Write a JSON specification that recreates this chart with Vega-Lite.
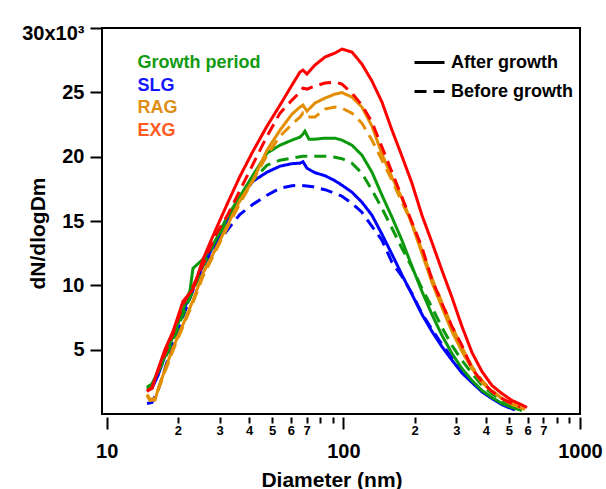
{
"$schema": "https://vega.github.io/schema/vega-lite/v6.json",
"width": 478, "height": 386,
"autosize": {"type": "none"},
"padding": {"left": 102, "top": 28, "right": 26, "bottom": 75},
"background": "white",
"config": {"font": "Liberation Sans", "view": {"stroke": "#000", "strokeWidth": 2}},
"data": {"values": [
{"g":"SLG","s":"After growth","d":14.8,"n":1829},{"g":"SLG","s":"After growth","d":15.54,"n":2023},{"g":"SLG","s":"After growth","d":16.47,"n":2996},{"g":"SLG","s":"After growth","d":17.63,"n":4552},{"g":"SLG","s":"After growth","d":19.06,"n":6187},{"g":"SLG","s":"After growth","d":21.01,"n":7977},{"g":"SLG","s":"After growth","d":23.15,"n":9767},{"g":"SLG","s":"After growth","d":25.52,"n":11556},{"g":"SLG","s":"After growth","d":28.68,"n":13268},{"g":"SLG","s":"After growth","d":32.54,"n":14980},{"g":"SLG","s":"After growth","d":36.58,"n":16848},{"g":"SLG","s":"After growth","d":41.51,"n":18093},{"g":"SLG","s":"After growth","d":47.56,"n":18793},{"g":"SLG","s":"After growth","d":53.98,"n":19260},{"g":"SLG","s":"After growth","d":60.66,"n":19455},{"g":"SLG","s":"After growth","d":65.55,"n":19494},{"g":"SLG","s":"After growth","d":67.5,"n":19611},{"g":"SLG","s":"After growth","d":70.18,"n":19105},{"g":"SLG","s":"After growth","d":75.86,"n":18755},{"g":"SLG","s":"After growth","d":83.59,"n":18521},{"g":"SLG","s":"After growth","d":92.15,"n":18132},{"g":"SLG","s":"After growth","d":98.65,"n":17782},{"g":"SLG","s":"After growth","d":108.7,"n":17237},{"g":"SLG","s":"After growth","d":119.8,"n":16459},{"g":"SLG","s":"After growth","d":132.1,"n":15447},{"g":"SLG","s":"After growth","d":145.6,"n":13969},{"g":"SLG","s":"After growth","d":160.5,"n":12412},{"g":"SLG","s":"After growth","d":176.8,"n":10817},{"g":"SLG","s":"After growth","d":194.9,"n":9299},{"g":"SLG","s":"After growth","d":214.8,"n":7743},{"g":"SLG","s":"After growth","d":236.7,"n":6420},{"g":"SLG","s":"After growth","d":261,"n":5230},{"g":"SLG","s":"After growth","d":287.6,"n":4187},{"g":"SLG","s":"After growth","d":317,"n":3191},{"g":"SLG","s":"After growth","d":349.4,"n":2451},{"g":"SLG","s":"After growth","d":385.1,"n":1728},{"g":"SLG","s":"After growth","d":424.4,"n":1206},{"g":"SLG","s":"After growth","d":467.8,"n":739},{"g":"SLG","s":"After growth","d":505.6,"n":482},{"g":"SLG","s":"After growth","d":531,"n":311},
{"g":"SLG","s":"Before growth","d":14.8,"n":817},{"g":"SLG","s":"Before growth","d":15.54,"n":895},{"g":"SLG","s":"Before growth","d":16.47,"n":1829},{"g":"SLG","s":"Before growth","d":17.63,"n":3541},{"g":"SLG","s":"Before growth","d":19.06,"n":5564},{"g":"SLG","s":"Before growth","d":21.01,"n":7587},{"g":"SLG","s":"Before growth","d":23.15,"n":9611},{"g":"SLG","s":"Before growth","d":25.52,"n":11478},{"g":"SLG","s":"Before growth","d":28.68,"n":13035},{"g":"SLG","s":"Before growth","d":32.54,"n":14358},{"g":"SLG","s":"Before growth","d":36.58,"n":15525},{"g":"SLG","s":"Before growth","d":41.51,"n":16303},{"g":"SLG","s":"Before growth","d":47.56,"n":17004},{"g":"SLG","s":"Before growth","d":53.98,"n":17548},{"g":"SLG","s":"Before growth","d":60.66,"n":17743},{"g":"SLG","s":"Before growth","d":65.55,"n":17782},{"g":"SLG","s":"Before growth","d":74.4,"n":17665},{"g":"SLG","s":"Before growth","d":83.59,"n":17432},{"g":"SLG","s":"Before growth","d":92.15,"n":17160},{"g":"SLG","s":"Before growth","d":98.65,"n":16925},{"g":"SLG","s":"Before growth","d":108.7,"n":16381},{"g":"SLG","s":"Before growth","d":119.8,"n":15680},{"g":"SLG","s":"Before growth","d":132.1,"n":14591},{"g":"SLG","s":"Before growth","d":145.6,"n":13502},{"g":"SLG","s":"Before growth","d":160.5,"n":11790},{"g":"SLG","s":"Before growth","d":176.8,"n":10700},{"g":"SLG","s":"Before growth","d":194.9,"n":9377},{"g":"SLG","s":"Before growth","d":214.8,"n":7821},{"g":"SLG","s":"Before growth","d":236.7,"n":6576},{"g":"SLG","s":"Before growth","d":261,"n":5408},{"g":"SLG","s":"Before growth","d":287.6,"n":4397},{"g":"SLG","s":"Before growth","d":317,"n":3463},{"g":"SLG","s":"Before growth","d":349.4,"n":2529},{"g":"SLG","s":"Before growth","d":385.1,"n":1751},{"g":"SLG","s":"Before growth","d":424.4,"n":1245},{"g":"SLG","s":"Before growth","d":467.8,"n":739},{"g":"SLG","s":"Before growth","d":515.6,"n":389},
{"g":"Growth period","s":"After growth","d":14.8,"n":2086},{"g":"Growth period","s":"After growth","d":15.54,"n":2335},{"g":"Growth period","s":"After growth","d":16.47,"n":3307},{"g":"Growth period","s":"After growth","d":17.63,"n":4475},{"g":"Growth period","s":"After growth","d":19.06,"n":6031},{"g":"Growth period","s":"After growth","d":21.01,"n":8054},{"g":"Growth period","s":"After growth","d":22.48,"n":9600},{"g":"Growth period","s":"After growth","d":23.15,"n":11323},{"g":"Growth period","s":"After growth","d":25.52,"n":12023},{"g":"Growth period","s":"After growth","d":28.68,"n":13424},{"g":"Growth period","s":"After growth","d":32.54,"n":15447},{"g":"Growth period","s":"After growth","d":36.58,"n":16925},{"g":"Growth period","s":"After growth","d":41.51,"n":18561},{"g":"Growth period","s":"After growth","d":47.56,"n":20273},{"g":"Growth period","s":"After growth","d":53.98,"n":20895},{"g":"Growth period","s":"After growth","d":60.66,"n":21284},{"g":"Growth period","s":"After growth","d":65.55,"n":21518},{"g":"Growth period","s":"After growth","d":67.5,"n":21750},{"g":"Growth period","s":"After growth","d":68.8,"n":21984},{"g":"Growth period","s":"After growth","d":71.56,"n":21362},{"g":"Growth period","s":"After growth","d":75.86,"n":21362},{"g":"Growth period","s":"After growth","d":83.59,"n":21439},{"g":"Growth period","s":"After growth","d":92.15,"n":21439},{"g":"Growth period","s":"After growth","d":98.65,"n":21284},{"g":"Growth period","s":"After growth","d":108.7,"n":20895},{"g":"Growth period","s":"After growth","d":119.8,"n":20117},{"g":"Growth period","s":"After growth","d":132.1,"n":18793},{"g":"Growth period","s":"After growth","d":145.6,"n":17004},{"g":"Growth period","s":"After growth","d":160.5,"n":15292},{"g":"Growth period","s":"After growth","d":176.8,"n":13502},{"g":"Growth period","s":"After growth","d":194.9,"n":11478},{"g":"Growth period","s":"After growth","d":214.8,"n":9533},{"g":"Growth period","s":"After growth","d":236.7,"n":7743},{"g":"Growth period","s":"After growth","d":261,"n":6109},{"g":"Growth period","s":"After growth","d":287.6,"n":4708},{"g":"Growth period","s":"After growth","d":317,"n":3541},{"g":"Growth period","s":"After growth","d":349.4,"n":2607},{"g":"Growth period","s":"After growth","d":385.1,"n":1829},{"g":"Growth period","s":"After growth","d":424.4,"n":1284},{"g":"Growth period","s":"After growth","d":467.8,"n":817},{"g":"Growth period","s":"After growth","d":515.6,"n":506},{"g":"Growth period","s":"After growth","d":568.4,"n":272},
{"g":"Growth period","s":"Before growth","d":14.8,"n":1984},{"g":"Growth period","s":"Before growth","d":15.54,"n":2296},{"g":"Growth period","s":"Before growth","d":16.47,"n":3230},{"g":"Growth period","s":"Before growth","d":17.63,"n":4319},{"g":"Growth period","s":"Before growth","d":19.06,"n":5720},{"g":"Growth period","s":"Before growth","d":21.01,"n":7743},{"g":"Growth period","s":"Before growth","d":23.15,"n":9611},{"g":"Growth period","s":"Before growth","d":25.52,"n":11478},{"g":"Growth period","s":"Before growth","d":28.68,"n":13424},{"g":"Growth period","s":"Before growth","d":32.54,"n":15058},{"g":"Growth period","s":"Before growth","d":36.58,"n":16614},{"g":"Growth period","s":"Before growth","d":41.51,"n":18171},{"g":"Growth period","s":"Before growth","d":47.56,"n":19339},{"g":"Growth period","s":"Before growth","d":53.98,"n":19727},{"g":"Growth period","s":"Before growth","d":60.66,"n":19883},{"g":"Growth period","s":"Before growth","d":67.5,"n":20039},{"g":"Growth period","s":"Before growth","d":75.86,"n":20039},{"g":"Growth period","s":"Before growth","d":83.59,"n":20039},{"g":"Growth period","s":"Before growth","d":92.15,"n":19961},{"g":"Growth period","s":"Before growth","d":98.65,"n":19844},{"g":"Growth period","s":"Before growth","d":108.7,"n":19494},{"g":"Growth period","s":"Before growth","d":119.8,"n":18716},{"g":"Growth period","s":"Before growth","d":132.1,"n":17393},{"g":"Growth period","s":"Before growth","d":145.6,"n":15992},{"g":"Growth period","s":"Before growth","d":160.5,"n":14436},{"g":"Growth period","s":"Before growth","d":176.8,"n":12879},{"g":"Growth period","s":"Before growth","d":194.9,"n":11400},{"g":"Growth period","s":"Before growth","d":214.8,"n":9767},{"g":"Growth period","s":"Before growth","d":236.7,"n":8288},{"g":"Growth period","s":"Before growth","d":261,"n":6731},{"g":"Growth period","s":"Before growth","d":287.6,"n":5331},{"g":"Growth period","s":"Before growth","d":317,"n":4163},{"g":"Growth period","s":"Before growth","d":349.4,"n":3152},{"g":"Growth period","s":"Before growth","d":385.1,"n":2218},{"g":"Growth period","s":"Before growth","d":424.4,"n":1595},{"g":"Growth period","s":"Before growth","d":467.8,"n":1051},{"g":"Growth period","s":"Before growth","d":515.6,"n":584},{"g":"Growth period","s":"Before growth","d":546.6,"n":389},
{"g":"RAG","s":"After growth","d":14.8,"n":1440},{"g":"RAG","s":"After growth","d":15.24,"n":1051},{"g":"RAG","s":"After growth","d":16,"n":1089},{"g":"RAG","s":"After growth","d":16.47,"n":1907},{"g":"RAG","s":"After growth","d":17.63,"n":3463},{"g":"RAG","s":"After growth","d":19.06,"n":5136},{"g":"RAG","s":"After growth","d":21.01,"n":6965},{"g":"RAG","s":"After growth","d":23.15,"n":8833},{"g":"RAG","s":"After growth","d":25.52,"n":10934},{"g":"RAG","s":"After growth","d":28.68,"n":12724},{"g":"RAG","s":"After growth","d":32.54,"n":14747},{"g":"RAG","s":"After growth","d":36.58,"n":16614},{"g":"RAG","s":"After growth","d":41.51,"n":18171},{"g":"RAG","s":"After growth","d":47.56,"n":20505},{"g":"RAG","s":"After growth","d":53.98,"n":22062},{"g":"RAG","s":"After growth","d":60.66,"n":23307},{"g":"RAG","s":"After growth","d":65.55,"n":23852},{"g":"RAG","s":"After growth","d":67.5,"n":24008},{"g":"RAG","s":"After growth","d":70.18,"n":23541},{"g":"RAG","s":"After growth","d":75.86,"n":24164},{"g":"RAG","s":"After growth","d":83.59,"n":24552},{"g":"RAG","s":"After growth","d":92.15,"n":24863},{"g":"RAG","s":"After growth","d":98.65,"n":24980},{"g":"RAG","s":"After growth","d":108.7,"n":24630},{"g":"RAG","s":"After growth","d":119.8,"n":23852},{"g":"RAG","s":"After growth","d":132.1,"n":22373},{"g":"RAG","s":"After growth","d":145.6,"n":20194},{"g":"RAG","s":"After growth","d":160.5,"n":18404},{"g":"RAG","s":"After growth","d":176.8,"n":16770},{"g":"RAG","s":"After growth","d":194.9,"n":14747},{"g":"RAG","s":"After growth","d":214.8,"n":12490},{"g":"RAG","s":"After growth","d":236.7,"n":10233},{"g":"RAG","s":"After growth","d":261,"n":8288},{"g":"RAG","s":"After growth","d":287.6,"n":6420},{"g":"RAG","s":"After growth","d":317,"n":4864},{"g":"RAG","s":"After growth","d":349.4,"n":3541},{"g":"RAG","s":"After growth","d":385.1,"n":2451},{"g":"RAG","s":"After growth","d":424.4,"n":1751},{"g":"RAG","s":"After growth","d":467.8,"n":1206},{"g":"RAG","s":"After growth","d":515.6,"n":739},{"g":"RAG","s":"After growth","d":557.4,"n":506},{"g":"RAG","s":"After growth","d":585.2,"n":350},
{"g":"RAG","s":"Before growth","d":14.8,"n":1517},{"g":"RAG","s":"Before growth","d":15.24,"n":1128},{"g":"RAG","s":"Before growth","d":16,"n":1206},{"g":"RAG","s":"Before growth","d":16.47,"n":1829},{"g":"RAG","s":"Before growth","d":17.63,"n":3307},{"g":"RAG","s":"Before growth","d":19.06,"n":4942},{"g":"RAG","s":"Before growth","d":21.01,"n":6809},{"g":"RAG","s":"Before growth","d":23.15,"n":8677},{"g":"RAG","s":"Before growth","d":25.52,"n":10700},{"g":"RAG","s":"Before growth","d":28.68,"n":12568},{"g":"RAG","s":"Before growth","d":32.54,"n":14591},{"g":"RAG","s":"Before growth","d":36.58,"n":16381},{"g":"RAG","s":"Before growth","d":41.51,"n":18171},{"g":"RAG","s":"Before growth","d":47.56,"n":20117},{"g":"RAG","s":"Before growth","d":53.98,"n":21595},{"g":"RAG","s":"Before growth","d":60.66,"n":22528},{"g":"RAG","s":"Before growth","d":65.55,"n":23074},{"g":"RAG","s":"Before growth","d":67.5,"n":23385},{"g":"RAG","s":"Before growth","d":70.18,"n":23074},{"g":"RAG","s":"Before growth","d":75.86,"n":23074},{"g":"RAG","s":"Before growth","d":83.59,"n":23697},{"g":"RAG","s":"Before growth","d":92.15,"n":23852},{"g":"RAG","s":"Before growth","d":98.65,"n":23774},{"g":"RAG","s":"Before growth","d":108.7,"n":23385},{"g":"RAG","s":"Before growth","d":119.8,"n":22607},{"g":"RAG","s":"Before growth","d":132.1,"n":21284},{"g":"RAG","s":"Before growth","d":145.6,"n":19727},{"g":"RAG","s":"Before growth","d":160.5,"n":18171},{"g":"RAG","s":"Before growth","d":176.8,"n":16459},{"g":"RAG","s":"Before growth","d":194.9,"n":14825},{"g":"RAG","s":"Before growth","d":214.8,"n":12724},{"g":"RAG","s":"Before growth","d":236.7,"n":10545},{"g":"RAG","s":"Before growth","d":261,"n":8677},{"g":"RAG","s":"Before growth","d":287.6,"n":6809},{"g":"RAG","s":"Before growth","d":317,"n":5175},{"g":"RAG","s":"Before growth","d":349.4,"n":3696},{"g":"RAG","s":"Before growth","d":385.1,"n":2607},{"g":"RAG","s":"Before growth","d":424.4,"n":1829},{"g":"RAG","s":"Before growth","d":467.8,"n":1206},{"g":"RAG","s":"Before growth","d":515.6,"n":817},{"g":"RAG","s":"Before growth","d":557.4,"n":545},
{"g":"EXG","s":"After growth","d":14.8,"n":1829},{"g":"EXG","s":"After growth","d":15.54,"n":1984},{"g":"EXG","s":"After growth","d":16.47,"n":3463},{"g":"EXG","s":"After growth","d":17.63,"n":5019},{"g":"EXG","s":"After growth","d":19.06,"n":6420},{"g":"EXG","s":"After growth","d":21.01,"n":8755},{"g":"EXG","s":"After growth","d":23.15,"n":9689},{"g":"EXG","s":"After growth","d":25.52,"n":12023},{"g":"EXG","s":"After growth","d":28.68,"n":14202},{"g":"EXG","s":"After growth","d":32.54,"n":16459},{"g":"EXG","s":"After growth","d":36.58,"n":18482},{"g":"EXG","s":"After growth","d":41.51,"n":20428},{"g":"EXG","s":"After growth","d":47.56,"n":22373},{"g":"EXG","s":"After growth","d":53.98,"n":24008},{"g":"EXG","s":"After growth","d":60.66,"n":25564},{"g":"EXG","s":"After growth","d":65.55,"n":26575},{"g":"EXG","s":"After growth","d":67.5,"n":26731},{"g":"EXG","s":"After growth","d":70.18,"n":26420},{"g":"EXG","s":"After growth","d":75.86,"n":27121},{"g":"EXG","s":"After growth","d":83.59,"n":27743},{"g":"EXG","s":"After growth","d":92.15,"n":28054},{"g":"EXG","s":"After growth","d":98.65,"n":28366},{"g":"EXG","s":"After growth","d":108.7,"n":28131},{"g":"EXG","s":"After growth","d":119.8,"n":27198},{"g":"EXG","s":"After growth","d":132.1,"n":25875},{"g":"EXG","s":"After growth","d":145.6,"n":24241},{"g":"EXG","s":"After growth","d":160.5,"n":22062},{"g":"EXG","s":"After growth","d":176.8,"n":20039},{"g":"EXG","s":"After growth","d":194.9,"n":17938},{"g":"EXG","s":"After growth","d":214.8,"n":15447},{"g":"EXG","s":"After growth","d":236.7,"n":13346},{"g":"EXG","s":"After growth","d":261,"n":11167},{"g":"EXG","s":"After growth","d":287.6,"n":9066},{"g":"EXG","s":"After growth","d":317,"n":6809},{"g":"EXG","s":"After growth","d":349.4,"n":4786},{"g":"EXG","s":"After growth","d":385.1,"n":3307},{"g":"EXG","s":"After growth","d":424.4,"n":2218},{"g":"EXG","s":"After growth","d":467.8,"n":1595},{"g":"EXG","s":"After growth","d":515.6,"n":1051},{"g":"EXG","s":"After growth","d":557.4,"n":778},{"g":"EXG","s":"After growth","d":596.8,"n":506},
{"g":"EXG","s":"Before growth","d":14.8,"n":1751},{"g":"EXG","s":"Before growth","d":15.54,"n":2062},{"g":"EXG","s":"Before growth","d":16.47,"n":3385},{"g":"EXG","s":"Before growth","d":17.63,"n":4708},{"g":"EXG","s":"Before growth","d":19.06,"n":6265},{"g":"EXG","s":"Before growth","d":21.01,"n":8521},{"g":"EXG","s":"Before growth","d":23.15,"n":9922},{"g":"EXG","s":"Before growth","d":25.52,"n":11634},{"g":"EXG","s":"Before growth","d":28.68,"n":13813},{"g":"EXG","s":"Before growth","d":32.54,"n":15525},{"g":"EXG","s":"Before growth","d":36.58,"n":17393},{"g":"EXG","s":"Before growth","d":41.51,"n":19416},{"g":"EXG","s":"Before growth","d":47.56,"n":21595},{"g":"EXG","s":"Before growth","d":53.98,"n":23385},{"g":"EXG","s":"Before growth","d":60.66,"n":24396},{"g":"EXG","s":"Before growth","d":65.55,"n":25019},{"g":"EXG","s":"Before growth","d":67.5,"n":25330},{"g":"EXG","s":"Before growth","d":70.18,"n":25253},{"g":"EXG","s":"Before growth","d":75.86,"n":25486},{"g":"EXG","s":"Before growth","d":83.59,"n":25720},{"g":"EXG","s":"Before growth","d":92.15,"n":25797},{"g":"EXG","s":"Before growth","d":98.65,"n":25641},{"g":"EXG","s":"Before growth","d":108.7,"n":24942},{"g":"EXG","s":"Before growth","d":119.8,"n":24008},{"g":"EXG","s":"Before growth","d":132.1,"n":22684},{"g":"EXG","s":"Before growth","d":145.6,"n":20739},{"g":"EXG","s":"Before growth","d":160.5,"n":18793},{"g":"EXG","s":"Before growth","d":176.8,"n":16848},{"g":"EXG","s":"Before growth","d":194.9,"n":14902},{"g":"EXG","s":"Before growth","d":214.8,"n":12957},{"g":"EXG","s":"Before growth","d":236.7,"n":10467},{"g":"EXG","s":"Before growth","d":261,"n":8599},{"g":"EXG","s":"Before growth","d":287.6,"n":6809},{"g":"EXG","s":"Before growth","d":317,"n":5331},{"g":"EXG","s":"Before growth","d":349.4,"n":3541},{"g":"EXG","s":"Before growth","d":385.1,"n":2529},{"g":"EXG","s":"Before growth","d":424.4,"n":1751},{"g":"EXG","s":"Before growth","d":467.8,"n":1206},{"g":"EXG","s":"Before growth","d":515.6,"n":817},{"g":"EXG","s":"Before growth","d":557.4,"n":545}
]},
"resolve": {"axis": {"x": "independent"}},
"layer": [
{
"mark": {"type": "line", "strokeWidth": 3, "clip": true},
"encoding": {
  "x": {"field": "d", "type": "quantitative",
    "scale": {"type": "log", "domain": [9.55, 1000], "nice": false},
    "axis": {"title": "Diameter (nm)", "orient": "bottom",
      "values": [10, 100, 1000], "format": "d",
      "domain": false, "grid": false, "offset": 3,
      "tickColor": "#000", "tickWidth": 2, "tickSize": 12,
      "labelFontSize": 20, "labelPadding": 12,
      "labelFontWeight": "bold", "labelColor": "#000", "labelFlush": false, "labelOverlap": false,
      "titleFontSize": 21, "titleFontWeight": "bold", "titleColor": "#000",
      "titleX": 229.5, "titleY": 69, "titleAlign": "center", "titleBaseline": "alphabetic"}},
  "y": {"field": "n", "type": "quantitative",
    "scale": {"domain": [0, 30000], "nice": false},
    "axis": {"title": "dN/dlogDm",
      "values": [5000,10000,15000,20000,25000,30000],
      "labelExpr": "datum.value == 30000 ? '30x10³' : ('' + datum.value / 1000)",
      "domain": false, "grid": false,
      "tickColor": "#000", "tickWidth": 2, "tickSize": 12,
      "labelFontSize": 20, "labelFontWeight": "bold", "labelColor": "#000", "labelPadding": 6,
      "labelOffset": {"condition": {"test": "datum.value == 30000", "value": 5}, "value": 0},
      "labelFlush": false, "labelOverlap": false,
      "titleFontSize": 21, "titleFontWeight": "bold", "titleColor": "#000",
      "titleAngle": 270, "titleX": -58, "titleY": 205, "titleAlign": "center", "titleBaseline": "alphabetic"}},
  "color": {"field": "g", "type": "nominal",
    "scale": {"domain": ["Growth period", "SLG", "RAG", "EXG"], "range": ["#0d990d", "#0000ff", "#e38e00", "#ff0000"]},
    "legend": {"orient": "none", "legendX": 17.5, "legendY": 26, "title": null, "padding": 0,
      "symbolOpacity": 0, "symbolSize": 0, "symbolStrokeWidth": 0, "labelOffset": 0,
      "labelFontSize": 18, "labelFontWeight": "bold", "rowPadding": 4.5,
      "encode": {"labels": {"update": {"fill": {"signal": "datum.label == 'Growth period' ? '#129a12' : datum.label == 'SLG' ? '#1414ff' : datum.label == 'RAG' ? '#df8e14' : '#ff5a1e'"}}}}}},
  "strokeDash": {"field": "s", "type": "nominal",
    "scale": {"domain": ["After growth", "Before growth"], "range": [[1, 0], [12, 7]]},
    "legend": {"orient": "none", "legendX": 311, "legendY": 18, "title": null, "padding": 0,
      "symbolType": "stroke", "symbolStrokeColor": "#000", "symbolStrokeWidth": 3, "symbolSize": 900,
      "labelOffset": 5, "labelFontSize": 18, "labelFontWeight": "bold", "labelColor": "#000", "rowPadding": 3}}
}
},
{
"mark": {"type": "point", "opacity": 0},
"encoding": {
  "x": {"field": "d", "type": "quantitative",
    "axis": {"title": null, "orient": "bottom",
      "values": [20,30,40,50,60,70,80,90,200,300,400,500,600,700,800,900],
      "labelExpr": "(datum.value < 100 ? datum.value / 10 : datum.value / 100) <= 7 ? ('' + (datum.value < 100 ? datum.value / 10 : datum.value / 100)) : ''",
      "domain": false, "grid": false, "offset": 3,
      "tickColor": "#000", "tickWidth": 2, "tickSize": 6,
      "labelFontSize": 13, "labelPadding": 1,
      "labelFontWeight": "bold", "labelColor": "#000", "labelFlush": false, "labelOverlap": false}}
}
}
]
}
